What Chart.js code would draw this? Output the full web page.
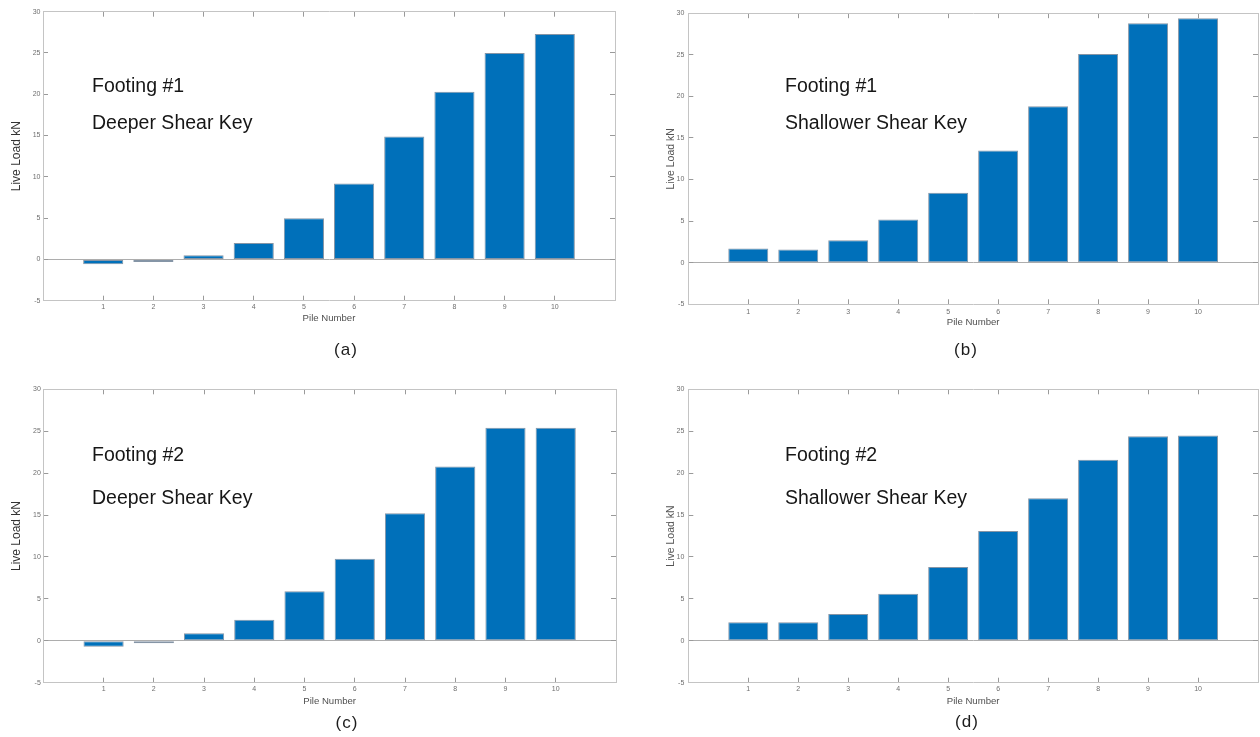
<!DOCTYPE html>
<html>
<head>
<meta charset="utf-8">
<script src="https://cdn.jsdelivr.net/npm/chart.js@4/dist/chart.umd.min.js"></script>
<style>
  html, body { margin: 0; padding: 0; background: #ffffff; }
  #page { position: relative; width: 1260px; height: 737px; overflow: hidden; background: #ffffff;
          font-family: 'Liberation Sans', Arial, sans-serif; }
  canvas { position: absolute; }
  .note { position: absolute; font-size: 20px; line-height: 20px; color: #161616; white-space: nowrap;
          transform: scaleX(0.975); transform-origin: left top; }
  .tag { position: absolute; width: 60px; text-align: center; font-size: 17px; line-height: 20px;
         color: #1c1c1c; letter-spacing: 1px; }
</style>
</head>
<body>
<div id="page"></div>
<script>
// Pile numbers along the footing and the measured live load on each pile (kN)
const piles = [1, 2, 3, 4, 5, 6, 7, 8, 9, 10];
const footing1Deeper    = [-0.6, -0.3, 0.5, 2.0, 5.0, 9.2, 14.9, 20.3, 25.0, 27.3];
const footing1Shallower = [1.7, 1.6, 2.7, 5.2, 8.4, 13.5, 18.8, 25.1, 28.8, 29.4];
const footing2Deeper    = [-0.7, -0.3, 0.9, 2.5, 5.9, 9.8, 15.2, 20.8, 25.4, 25.4];
const footing2Shallower = [2.2, 2.2, 3.2, 5.6, 8.8, 13.1, 17.0, 21.6, 24.4, 24.5];

// Axis text
const xTitle = 'Pile Number';
const yTitle = 'Live Load kN';
const yMin = -5, yMax = 30, yStep = 5;
const xMin = -0.2, xMax = 11.2;

const BAR_BLUE = '#0070ba';
const BAR_EDGE = '#8595a6';
const FRAME = '#c4c4c4';
const TICK = '#9a9a9a';
const ZERO = '#adadad';
const FONT = "'Liberation Sans', Arial, sans-serif";

Chart.defaults.font.family = FONT;
Chart.defaults.animation = false;

const CW = 630, CH = 368;

const panels = [
  { values: footing1Deeper, left: 0, top: 0,
    area: { l: 43, t: 10, r: 615, b: 300.7 }, xh: 23.6, xPad: 7.4, yPad: 7.5,
    yFont: 12, yColor: '#333', yTitlePad: 9.5,
    lines: [['Footing #1', 92, 91.7], ['Deeper Shear Key', 92, 129]],
    tag: ['(a)', 346, 350] },
  { values: footing1Shallower, left: 630, top: 0,
    area: { l: 58.3, t: 10.7, r: 628, b: 304.3 }, xh: 24.2, xPad: 8.2, yPad: 9,
    yFont: 10.5, yColor: '#555', yTitlePad: 34.7,
    lines: [['Footing #1', 785, 91.7], ['Shallower Shear Key', 785, 129.3]],
    tag: ['(b)', 966, 350] },
  { values: footing2Deeper, left: 0, top: 368,
    area: { l: 43.3, t: 21.3, r: 616, b: 314.7 }, xh: 24, xPad: 7.4, yPad: 7.5,
    yFont: 12, yColor: '#333', yTitlePad: 9.5,
    lines: [['Footing #2', 92, 461], ['Deeper Shear Key', 92, 504.3]],
    tag: ['(c)', 347, 723] },
  { values: footing2Shallower, left: 630, top: 368,
    area: { l: 58.3, t: 21.3, r: 628, b: 314.7 }, xh: 24, xPad: 7.4, yPad: 9,
    yFont: 10.5, yColor: '#555', yTitlePad: 34.7,
    lines: [['Footing #2', 785, 461], ['Shallower Shear Key', 785, 504.3]],
    tag: ['(d)', 967, 722] }
];

const page = document.getElementById('page');

function pileTicks(scale) {
  scale.ticks = piles.map(v => ({ value: v }));
}

function frameGrid(extra) {
  return Object.assign({
    drawOnChartArea: false, drawTicks: true, tickLength: -5,
    tickColor: TICK, lineWidth: 1, offset: false
  }, extra || {});
}

panels.forEach(p => {
  const cv = document.createElement('canvas');
  cv.width = CW; cv.height = CH;
  cv.style.left = p.left + 'px';
  cv.style.top = p.top + 'px';
  cv.style.width = CW + 'px';
  cv.style.height = CH + 'px';
  page.appendChild(cv);

  new Chart(cv, {
    type: 'bar',
    data: {
      datasets: [{
        data: piles.map((n, i) => ({ x: n, y: p.values[i] })),
        backgroundColor: BAR_BLUE,
        borderColor: BAR_EDGE,
        borderWidth: 1,
        borderSkipped: false,
        barPercentage: 0.8,
        categoryPercentage: 1.0
      }]
    },
    options: {
      responsive: false,
      devicePixelRatio: 1,
      animation: false,
      events: [],
      layout: { padding: { left: 0, top: p.area.t, right: CW - p.area.r, bottom: CH - p.area.b - p.xh } },
      plugins: { legend: { display: false }, tooltip: { enabled: false }, title: { display: false } },
      scales: {
        x: {
          type: 'linear', position: 'bottom', min: xMin, max: xMax, offset: false,
          afterBuildTicks: pileTicks,
          afterFit: s => { s.height = p.xh; },
          grid: frameGrid(),
          border: { display: true, color: FRAME, width: 1 },
          ticks: { color: '#6e6e6e', font: { size: 7 }, padding: p.xPad, maxRotation: 0, autoSkip: false,
                   callback: v => String(v) },
          title: { display: true, text: xTitle, color: '#505050', font: { size: 9.6 },
                   padding: { top: 0, bottom: 0 } }
        },
        x2: {
          type: 'linear', position: 'top', min: xMin, max: xMax, offset: false, display: true,
          afterBuildTicks: pileTicks,
          afterFit: s => { s.height = 0; },
          grid: frameGrid(),
          border: { display: true, color: FRAME, width: 1 },
          ticks: { display: false }
        },
        y: {
          type: 'linear', position: 'left', min: yMin, max: yMax, beginAtZero: false,
          afterFit: s => { s.width = p.area.l; },
          grid: frameGrid({
            drawOnChartArea: true,
            color: c => (c.tick && c.tick.value === 0) ? ZERO : 'rgba(0,0,0,0)'
          }),
          border: { display: true, color: FRAME, width: 1 },
          ticks: { stepSize: yStep, color: '#6e6e6e', font: { size: 7 }, padding: p.yPad,
                   callback: v => String(v) },
          title: { display: true, text: yTitle, color: p.yColor, font: { size: p.yFont },
                   padding: { top: p.yTitlePad, bottom: 0 } }
        },
        y2: {
          type: 'linear', position: 'right', min: yMin, max: yMax, display: true,
          afterFit: s => { s.width = 0; },
          grid: frameGrid(),
          border: { display: true, color: FRAME, width: 1 },
          ticks: { stepSize: yStep, display: false }
        }
      }
    }
  });

  // In-plot notes: [text, left, baseline] in page pixels
  p.lines.forEach(([text, x, base]) => {
    const d = document.createElement('div');
    d.className = 'note';
    d.textContent = text;
    d.style.left = x + 'px';
    d.style.top = (base - 16.9) + 'px';
    page.appendChild(d);
  });

  const t = document.createElement('div');
  t.className = 'tag';
  t.textContent = p.tag[0];
  t.style.left = (p.tag[1] - 30) + 'px';
  t.style.top = (p.tag[2] - 10) + 'px';
  page.appendChild(t);
});
</script>
</body>
</html>
